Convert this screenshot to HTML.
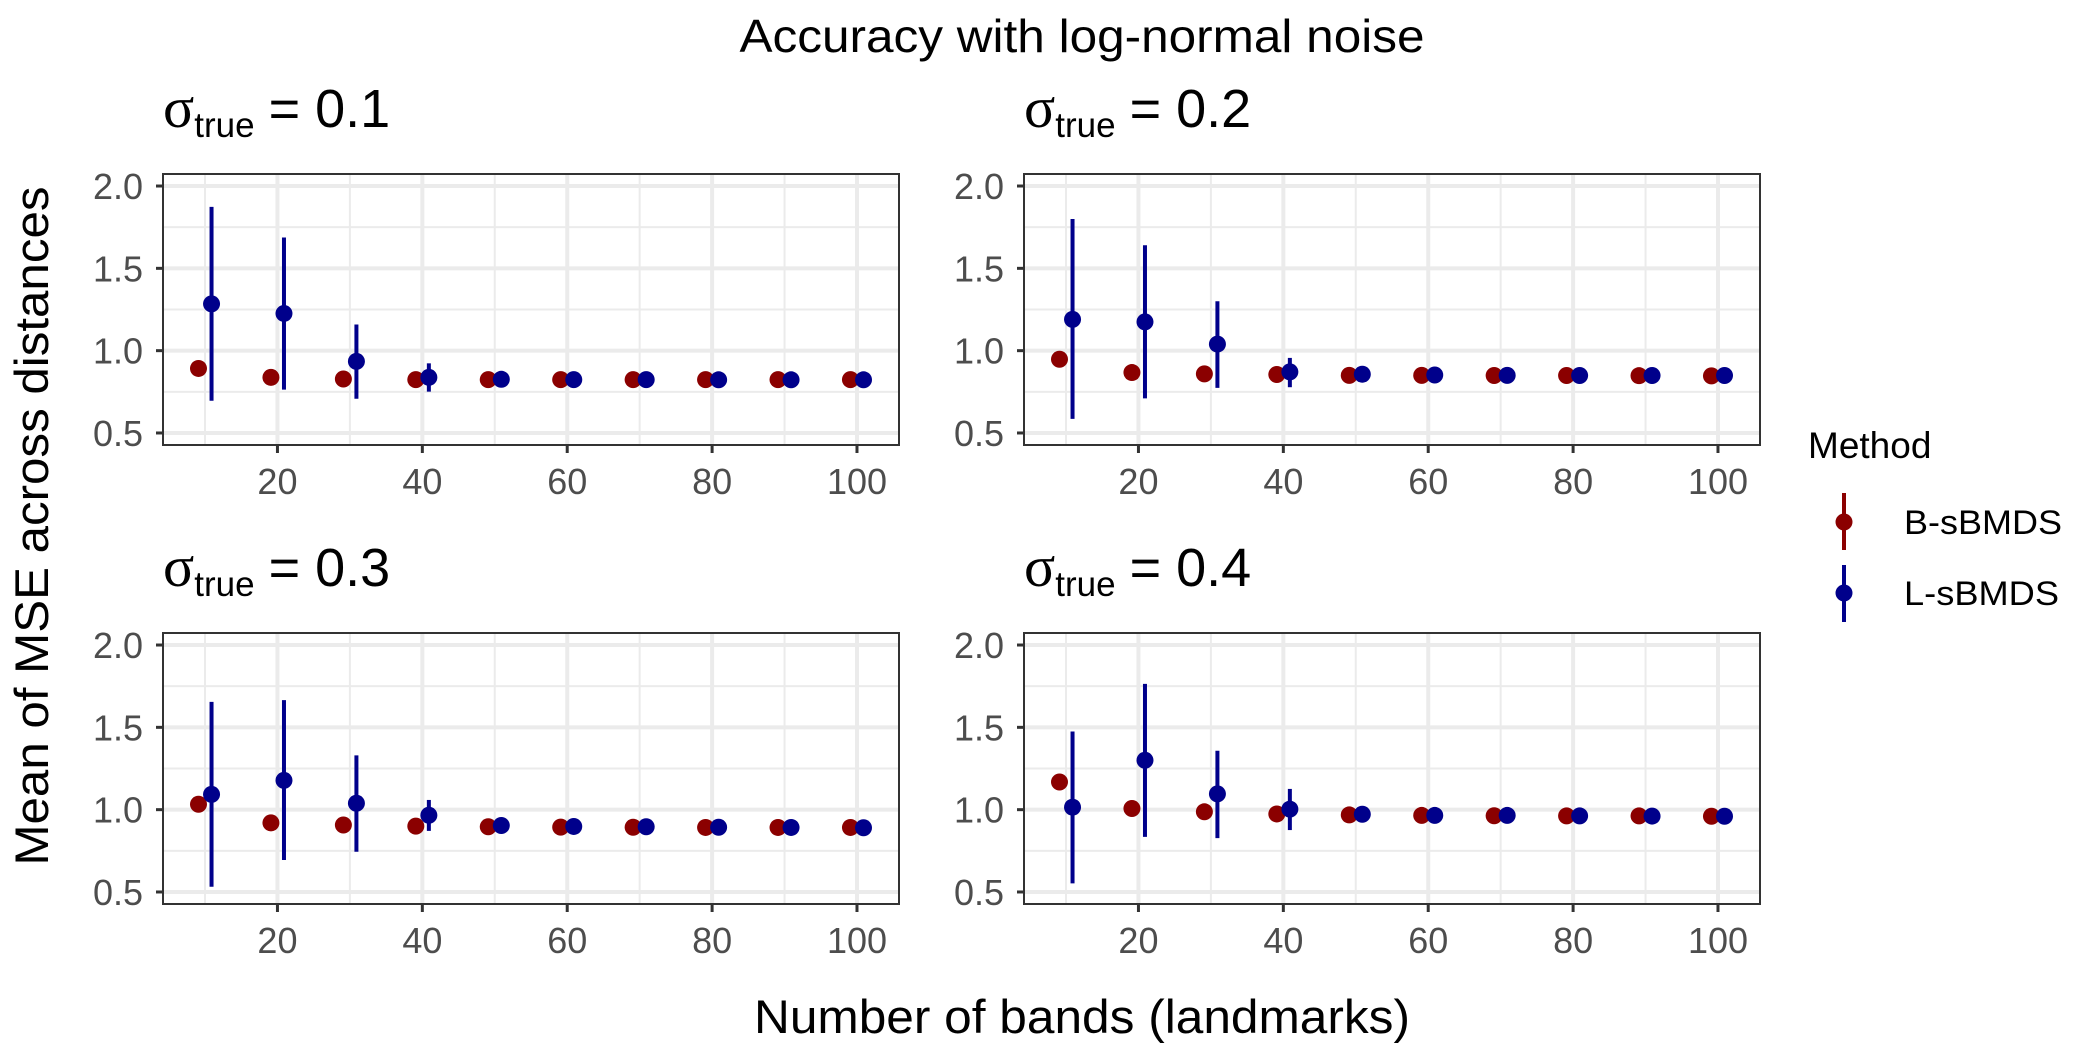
<!DOCTYPE html>
<html><head><meta charset="utf-8"><style>
html,body{margin:0;padding:0;background:#fff}
svg{display:block;font-family:"Liberation Sans",sans-serif}
</style></head><body>
<svg id="chart" width="2100" height="1050" viewBox="0 0 2100 1050" xmlns="http://www.w3.org/2000/svg">
<text x="1082" y="52" font-size="46" text-anchor="middle" textLength="685" lengthAdjust="spacingAndGlyphs" fill="#000">Accuracy with log-normal noise</text>
<text x="1082" y="1033" font-size="47" text-anchor="middle" textLength="656" lengthAdjust="spacingAndGlyphs" fill="#000">Number of bands (landmarks)</text>
<text transform="translate(48,526) rotate(-90)" font-size="47" text-anchor="middle" textLength="679" lengthAdjust="spacingAndGlyphs" fill="#000">Mean of MSE across distances</text>
<g>
<text x="1808" y="458" font-size="37" fill="#000">Method</text>
<g>
<line x1="1844" y1="493" x2="1844" y2="550" stroke="#8b0000" stroke-width="4"/>
<circle cx="1844" cy="522" r="8.5" fill="#8b0000"/>
<text x="1904" y="534" font-size="34" textLength="158" lengthAdjust="spacingAndGlyphs" fill="#000">B-sBMDS</text>
</g>
<g>
<line x1="1844" y1="565" x2="1844" y2="622" stroke="#00008b" stroke-width="4"/>
<circle cx="1844" cy="593" r="8.5" fill="#00008b"/>
<text x="1904" y="605" font-size="34" textLength="155" lengthAdjust="spacingAndGlyphs" fill="#000">L-sBMDS</text>
</g>
</g>
<g id="panels"></g>
</svg>
<script>
const xCats = [10,20,30,40,50,60,70,80,90,100];
const panelLabels = ["0.1","0.2","0.3","0.4"];
const bMean = [
 [0.892,0.838,0.828,0.824,0.824,0.824,0.824,0.824,0.824,0.824],
 [0.948,0.867,0.859,0.855,0.850,0.850,0.849,0.849,0.848,0.847],
 [1.033,0.920,0.907,0.900,0.896,0.894,0.893,0.892,0.892,0.892],
 [1.168,1.007,0.987,0.974,0.968,0.965,0.963,0.962,0.962,0.960]];
const lMean = [
 [1.284,1.226,0.935,0.838,0.826,0.824,0.824,0.823,0.823,0.823],
 [1.190,1.175,1.040,0.871,0.857,0.852,0.850,0.849,0.849,0.849],
 [1.093,1.178,1.039,0.966,0.904,0.898,0.896,0.893,0.892,0.890],
 [1.015,1.300,1.096,1.003,0.972,0.965,0.965,0.962,0.961,0.960]];
const lLow = [
 [0.696,0.763,0.708,0.751],
 [0.586,0.710,0.774,0.778],
 [0.532,0.694,0.744,0.871],
 [0.552,0.835,0.827,0.876]];
const lHigh = [
 [1.873,1.687,1.159,0.923],
 [1.800,1.640,1.300,0.956],
 [1.655,1.665,1.330,1.059],
 [1.475,1.764,1.358,1.126]];
const yTicks = [0.5,1.0,1.5,2.0];
const yTickLabels = ["0.5","1.0","1.5","2.0"];
const yMinor = [0.75,1.25,1.75];
const xTicks = [20,40,60,80,100];
const xMinor = [10,30,50,70,90];

const NS="http://www.w3.org/2000/svg";
const root=document.getElementById('panels');
function mk(tag,attrs,parent){const e=document.createElementNS(NS,tag);for(const k in attrs)e.setAttribute(k,attrs[k]);parent.appendChild(e);return e;}
const layout=[[163,174],[1024,174],[163,633],[1024,633]];
const PW=736,PH=271,X0=4.2,X1=105.8,Y0=0.427,Y1=2.073,DODGE=0.9;
panelLabels.forEach((lab,p)=>{
  const [L,T]=layout[p];
  const sx=v=>L+(v-X0)/(X1-X0)*PW;
  const sy=v=>T+PH-(v-Y0)/(Y1-Y0)*PH;
  const g=mk('g',{},root);
  
  
  const st=mk('text',{x:L,y:T-47,fill:'#000'},g);
  
  
  const t1=mk('tspan',{'font-family':'"Liberation Serif",serif','font-size':'58'},st);t1.textContent='σ';
  const t2=mk('tspan',{'font-size':'35',dy:'10'},st);t2.textContent='true';
  const t3=mk('tspan',{'font-size':'54',dy:'-10',dx:'14'},st);t3.textContent='= '+lab;
  mk('rect',{x:L,y:T,width:PW,height:PH,fill:'#fff'},g);
  yMinor.forEach(v=>mk('line',{x1:L,x2:L+PW,y1:sy(v),y2:sy(v),stroke:'#ebebeb','stroke-width':2},g));
  xMinor.forEach(v=>mk('line',{x1:sx(v),x2:sx(v),y1:T,y2:T+PH,stroke:'#ebebeb','stroke-width':2},g));
  yTicks.forEach((v,i)=>{
    mk('line',{x1:L,x2:L+PW,y1:sy(v),y2:sy(v),stroke:'#ebebeb','stroke-width':4},g);
    mk('line',{x1:L-7,x2:L,y1:sy(v),y2:sy(v),stroke:'#333','stroke-width':3},g);
    const t=mk('text',{x:L-20,y:sy(v)+13,'font-size':'36','text-anchor':'end',fill:'#4d4d4d'},g);
    
    
    t.textContent=yTickLabels[i];
  });
  xTicks.forEach(v=>{
    mk('line',{x1:sx(v),x2:sx(v),y1:T,y2:T+PH,stroke:'#ebebeb','stroke-width':4},g);
    mk('line',{x1:sx(v),x2:sx(v),y1:T+PH,y2:T+PH+8,stroke:'#333','stroke-width':3},g);
    const t=mk('text',{x:sx(v),y:T+PH+49,'font-size':'36','text-anchor':'middle',fill:'#4d4d4d'},g);
    
    
    t.textContent=String(v);
  });
  xCats.forEach((x,i)=>{
    const c=mk('circle',{cx:sx(x-DODGE),cy:sy(bMean[p][i]),r:8.5,fill:'#8b0000'},g);
    
    
  });
  xCats.forEach((x,i)=>{
    if(i<lLow[p].length){
      const e=mk('line',{x1:sx(x+DODGE),x2:sx(x+DODGE),y1:sy(lLow[p][i]),y2:sy(lHigh[p][i]),stroke:'#00008b','stroke-width':4},g);
      
      
    }
    const c=mk('circle',{cx:sx(x+DODGE),cy:sy(lMean[p][i]),r:8.5,fill:'#00008b'},g);
    
    
  });
  mk('rect',{x:L,y:T,width:PW,height:PH,fill:'none',stroke:'#333','stroke-width':2},g);
});
</script>
</body></html>
